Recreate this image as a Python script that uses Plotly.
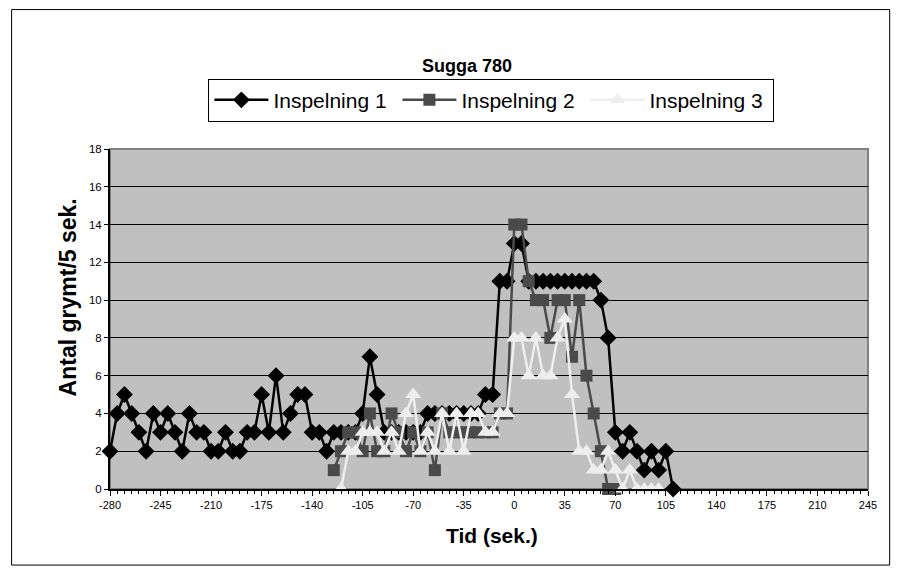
import plotly.graph_objects as go

# ---- data ----
t1 = list(range(-285, 115, 5))
s1 = [0, 2, 4, 5, 4, 3, 2, 4, 3, 4, 3, 2, 4, 3, 3, 2, 2, 3, 2, 2, 3, 3, 5, 3, 6, 3, 4, 5, 5,
      3, 3, 2, 3, 3, 3, 3, 4, 7, 5, 3, 3, 3, 3, 3, 3, 4, 4, 4, 4, 4, 4, 4, 4, 5, 5,
      11, 11, 13, 13, 11, 11, 11, 11, 11, 11, 11, 11, 11, 11, 10, 8,
      3, 2, 3, 2, 1, 2, 1, 2, 0]

t2 = list(range(-125, 75, 5))
s2 = [1, 2, 3, 3, 2, 4, 2, 2, 4, 3, 2, 3, 2, 3, 1, 4, 3, 3, 3, 3, 3, 3, 3, 4, 4,
      14, 14, 11, 10, 10, 8, 10, 10, 7, 10, 6, 4, 2, 0, 0]

t3 = list(range(-120, 105, 5))
s3 = [0, 2, 2, 3, 3, 3, 2, 3, 2, 4, 5, 2, 3, 2, 4, 2, 4, 2, 4, 4, 3, 3, 4, 4,
      8, 8, 6, 8, 6, 6, 8, 9, 5, 2, 2, 1, 1, 2, 1, 0, 1, 0, 0, 0, 0]

names = ["Inspelning 1", "Inspelning 2", "Inspelning 3"]
title = "Sugga 780"
x_title = "Tid (sek.)"
y_title = "Antal grymt/5 sek."
x_ticks = list(range(-280, 246, 35))
y_ticks = list(range(0, 19, 2))

# ---- layout geometry (pixels) ----
W, H = 901, 575
PL, PR, PT, PB = 109.5, 868.3, 149.3, 489.0
pw, ph = PR - PL, PB - PT

def px(x):
    return (x - PL) / pw

def py(y):
    return (PB - y) / ph

FONT = "Liberation Sans, Arial, sans-serif"
XMIN, XMAX = x_ticks[0], x_ticks[-1]

# hide markers that fall outside the visible x range (line still drawn)
op1 = [1 if XMIN <= t <= XMAX else 0 for t in t1]

fig = go.Figure()
fig.add_trace(go.Scatter(x=t1, y=s1, name=names[0], mode="lines+markers", cliponaxis=False,
                         line=dict(color="#000000", width=2.5),
                         marker=dict(symbol="diamond", size=13, color="#000000", opacity=op1)))
fig.add_trace(go.Scatter(x=t2, y=s2, name=names[1], mode="lines+markers", cliponaxis=False,
                         line=dict(color="#4a4a4a", width=2.5),
                         marker=dict(symbol="square", size=12, color="#4a4a4a")))
fig.add_trace(go.Scatter(x=t3, y=s3, name=names[2], mode="lines+markers", cliponaxis=False,
                         line=dict(color="#eeeeee", width=2.5),
                         marker=dict(symbol="triangle-up", size=14, color="#eeeeee")))

fig.update_layout(
    width=W, height=H,
    margin=dict(l=PL, r=W - PR, t=PT, b=H - PB, pad=0),
    paper_bgcolor="#ffffff",
    plot_bgcolor="#c0c0c0",
    font=dict(family=FONT, color="#000000"),
    showlegend=True,
    legend=dict(orientation="h", x=px(491.3), xanchor="center", y=py(122), yanchor="bottom",
                bgcolor="#ffffff", bordercolor="#000000", borderwidth=1,
                font=dict(size=21, family=FONT), itemwidth=54, entrywidth=119,
                traceorder="normal"),
    xaxis=dict(range=[XMIN, XMAX], tickmode="array", tickvals=x_ticks,
               ticktext=[str(v) for v in x_ticks], showgrid=False, zeroline=False,
               showline=True, linecolor="#000000", linewidth=2, mirror=False,
               ticks="outside", ticklen=5, tickcolor="#000000", tickwidth=1,
               tickfont=dict(size=11, family=FONT),
               minor=dict(dtick=5, tick0=XMIN, ticks="outside", ticklen=3, tickcolor="#000000", showgrid=False)),
    yaxis=dict(range=[0, 18], tickmode="array", tickvals=y_ticks,
               ticktext=[str(v) for v in y_ticks], showgrid=True, gridcolor="#000000", gridwidth=1,
               zeroline=False, showline=True, linecolor="#000000", linewidth=2,
               ticks="outside", ticklen=4, tickcolor="#000000",
               tickfont=dict(size=11.5, family=FONT)),
    shapes=[
        dict(type="rect", xref="paper", yref="paper", x0=0, x1=1, y0=0, y1=1,
             line=dict(color="#808080", width=2), layer="below"),
        dict(type="rect", xref="paper", yref="paper", x0=px(11), x1=px(890), y0=py(565), y1=py(10),
             line=dict(color="#000000", width=1)),
    ],
    annotations=[
        dict(text="<b>%s</b>" % title, xref="paper", yref="paper", x=px(467), y=py(66),
             xanchor="center", yanchor="middle", showarrow=False, font=dict(size=18, family=FONT)),
        dict(text="<b>%s</b>" % x_title, xref="paper", yref="paper", x=px(492), y=py(535),
             xanchor="center", yanchor="middle", showarrow=False, font=dict(size=21, family=FONT)),
        dict(text="<b>%s</b>" % y_title, xref="paper", yref="paper", x=px(67), y=py(298),
             xanchor="center", yanchor="middle", textangle=-90, showarrow=False,
             font=dict(size=23, family=FONT)),
    ],
)

fig.write_html("out.html")
